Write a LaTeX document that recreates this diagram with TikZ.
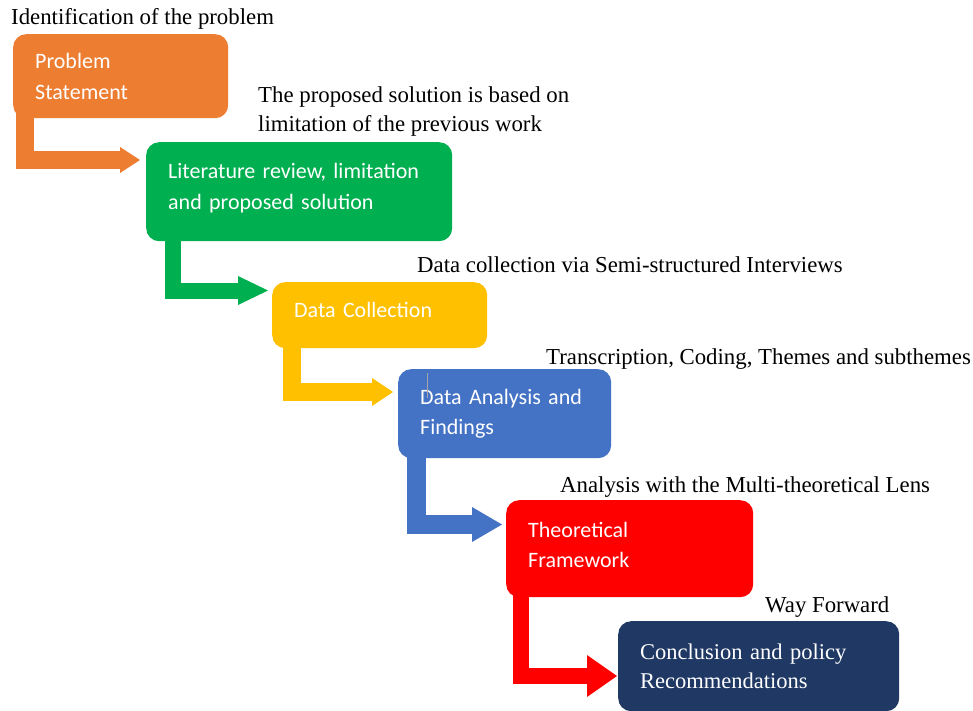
\documentclass[tikz,border=0pt]{standalone}
\usepackage{fontspec}
\setmainfont{Liberation Serif}
\newfontfamily\boxfont{Carlito}
\usetikzlibrary{arrows.meta,calc,backgrounds}
\definecolor{cOrange}{HTML}{ED7D31}
\definecolor{cGreen}{HTML}{00B050}
\definecolor{cYellow}{HTML}{FFC000}
\definecolor{cBlue}{HTML}{4472C4}
\definecolor{cRed}{HTML}{FF0000}
\definecolor{cNavy}{HTML}{203864}
\begin{document}
\begin{tikzpicture}[x=1pt,y=-1pt,
  stage/.style={rounded corners=13pt, inner xsep=22pt, inner ysep=0pt, anchor=north west,
    text=white, align=left, font=\boxfont\fontsize{22}{30.5}\selectfont},
  note/.style={anchor=base west, inner sep=0pt, align=left, font=\fontsize{22.8}{29}\selectfont},
  flow/.style={line join=miter, line cap=butt}
]
\useasboundingbox (0,0) rectangle (973,711);
% stages
\node[stage, fill=cOrange, text width=171pt, minimum height=84pt] (s1) at (13,34) {Problem\\Statement};
\node[stage, fill=cGreen, text width=262pt, minimum height=99pt] (s2) at (146,142) {Literature review, limitation\\and proposed solution\par\vspace{7pt}};
\node[stage, fill=cYellow, text width=171pt, minimum height=66pt] (s3) at (272,282) {Data Collection\par\vspace{10pt}};
\node[stage, fill=cBlue, text width=169pt, minimum height=89pt] (s4) at (398,369) {Data Analysis and\\Findings};
\node[stage, fill=cRed, text width=203pt, minimum height=97pt] (s5) at (506,500) {Theoretical\\Framework\par\vspace{8pt}};
\node[stage, fill=cNavy, text width=237pt, minimum height=90pt, font=\fontsize{22.5}{29}\selectfont] (s6) at (618,621) {Conclusion and policy\\Recommendations};
% cursor mark
\draw[gray!70, line width=1pt] ($(s4.north west)+(29,4)$) -- ++(0,25);
% notes
\node[note] (l1) at (11,25) {Identification of the problem};
\node[note] (l2) at (258,132) {The proposed solution is based on\\limitation of the previous work};
\node[note] (l3) at (417,272) {Data collection via Semi-structured Interviews};
\node[note] (l4) at (546,364) {Transcription, Coding, Themes and subthemes};
\node[note] (l5) at (560,492) {Analysis with the Multi-theoretical Lens};
\node[note] (l6) at (765,612) {Way Forward};
% connectors
\begin{scope}[on background layer]
\fill[white] (0,0) rectangle (973,711);
\draw[flow, draw=cOrange, line width=18pt, -{Triangle[length=20pt,width=26pt,line width=0pt]}]
  ($(s1.south west)+(12,-10)$) |- ($(s2.north west)+(-6,18)$);
\draw[flow, draw=cGreen, line width=16pt, -{Triangle[length=30pt,width=29pt,line width=0pt]}]
  ($(s2.south west)+(27,-10)$) |- ($(s3.north west)+(-4,8.5)$);
\draw[flow, draw=cYellow, line width=18pt, -{Triangle[length=21pt,width=28pt,line width=0pt]}]
  ($(s3.south west)+(20,-10)$) |- ($(s4.north west)+(-5,23)$);
\draw[flow, draw=cBlue, line width=19pt, -{Triangle[length=30pt,width=35pt,line width=0pt]}]
  ($(s4.south west)+(18.5,-10)$) |- ($(s5.north west)+(-4,24.5)$);
\draw[flow, draw=cRed, line width=16pt, -{Triangle[length=30pt,width=42pt,line width=0pt]}]
  ($(s5.south west)+(15,-10)$) |- ($(s6.north west)+(-1,55)$);
\end{scope}
\end{tikzpicture}
\end{document}
